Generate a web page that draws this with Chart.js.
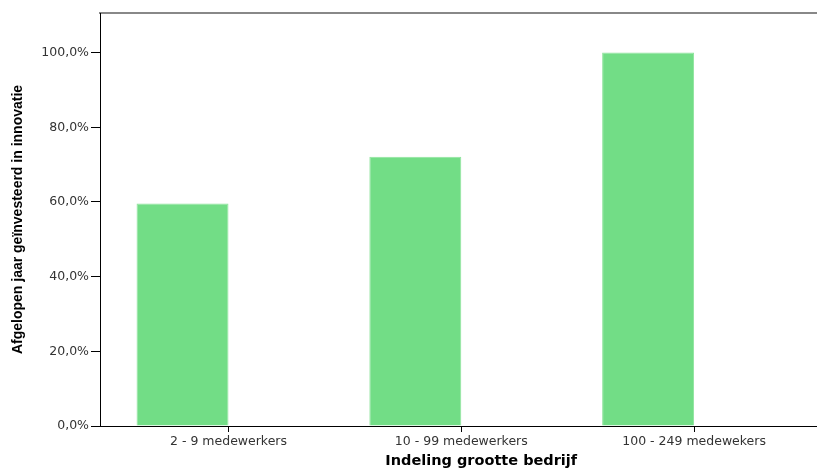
<!DOCTYPE html>
<html>
<head>
<meta charset="utf-8">
<script src="https://cdn.jsdelivr.net/npm/chart.js@4"></script>
<style>
  html, body { margin: 0; padding: 0; background: #fff; }
  #chart-wrap { width: 817px; height: 469px; position: relative; }
</style>
</head>
<body>
<div id="chart-wrap"><canvas id="size-chart"></canvas></div>
<script>
const categories = ['2 - 9 medewerkers', '10 - 99 medewerkers', '100 - 249 medewekers'];
const invested = [59.6, 72.1, 100.0];
const yTicks = [0, 20, 40, 60, 80, 100];

document.addEventListener('DOMContentLoaded', () => {
  setupChart();

  function setupChart() {
    const ctx = document.getElementById('size-chart').getContext('2d');

    new Chart(ctx, {
      type: 'bar',
      data: {
        datasets: [{
          data: categories.map((c, i) => ({ x: i, y: invested[i] })),
          backgroundColor: '#72dd86',
          borderColor: '#8ee49c',
          borderWidth: 1,
          barPercentage: 1,
          categoryPercentage: 0.79
        }, {
          // empty partner so the bars sit left of the tick, as in SPSS
          data: categories.map((c, i) => ({ x: i, y: null })),
          barPercentage: 1,
          categoryPercentage: 0.79
        }]
      },
      options: {
        responsive: true,
        maintainAspectRatio: false,
        animation: false,
        layout: { padding: 0 },
        plugins: {
          legend: { display: false },
          tooltip: { enabled: false }
        },
        scales: {
          x: {
            type: 'linear',
            position: 'bottom',
            min: -0.552,
            max: 2.528,
            offset: false,
            afterBuildTicks: (scale) => {
              scale.ticks = categories.map((c, i) => ({ value: i }));
            },
            afterFit: (scale) => { scale.height = 43; },
            ticks: {
              callback: (value) => categories[value],
              color: '#333',
              font: { family: 'DejaVu Sans', size: 12.5 },
              padding: 2,
              maxRotation: 0
            },
            grid: {
              offset: false,
              drawOnChartArea: false,
              tickLength: 6,
              color: '#000'
            },
            border: { display: true, color: '#000', width: 1 },
            title: {
              display: true,
              // leading spaces push the title right, like the original layout
              text: '         Indeling grootte bedrijf',
              color: '#000',
              font: { family: 'DejaVu Sans', size: 14.5, weight: 'bold' },
              padding: { top: 7, bottom: -1 }
            }
          },
          x2: {
            type: 'linear',
            position: 'top',
            min: 0,
            max: 1,
            afterFit: (scale) => { scale.height = 13; },
            ticks: { display: false },
            grid: { display: false },
            border: { display: true, color: '#888', width: 2 }
          },
          y: {
            min: 0,
            max: 110.6,
            afterBuildTicks: (scale) => {
              scale.ticks = yTicks.map(v => ({ value: v }));
            },
            afterFit: (scale) => { scale.width = 100; },
            ticks: {
              callback: (value) => value.toFixed(1).replace('.', ',') + '%',
              color: '#333',
              font: { family: 'DejaVu Sans', size: 12.5 },
              padding: 2
            },
            grid: {
              drawOnChartArea: false,
              tickLength: 9,
              color: '#000'
            },
            border: { display: true, color: '#000', width: 1 },
            title: {
              display: true,
              text: 'Afgelopen jaar geïnvesteerd in innovatie',
              color: '#000',
              font: { family: 'Liberation Sans', size: 14, weight: 'bold' },
              padding: { top: 10, bottom: 0 }
            }
          }
        }
      }
    });
  }
});
</script>
</body>
</html>
